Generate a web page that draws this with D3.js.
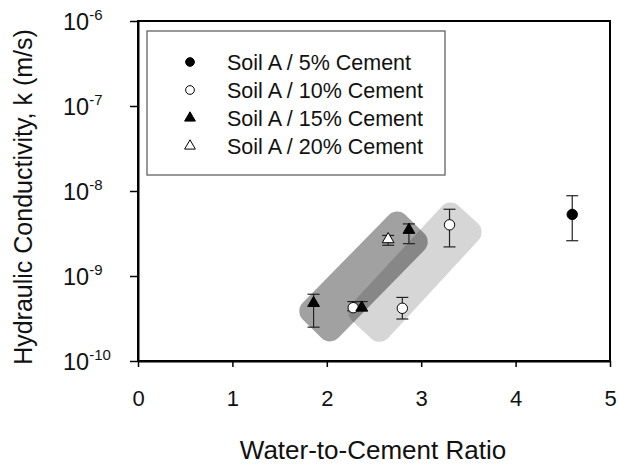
<!DOCTYPE html>
<html>
<head>
<meta charset="utf-8">
<script src="https://cdn.jsdelivr.net/npm/d3@7"></script>
<style>
  html, body { margin: 0; padding: 0; background: #fff; }
  svg { display: block; font-family: "Liberation Sans", Arial, sans-serif; }
</style>
</head>
<body>
<svg id="chart" width="618" height="465"></svg>
<script>
// ---- data ----
const seriesNames = ["Soil A / 5% Cement", "Soil A / 10% Cement", "Soil A / 15% Cement", "Soil A / 20% Cement"];
const seriesSymbols = ["circle", "circle", "triangle", "triangle"];
const seriesFilled = [true, false, true, false];

const wc5 = [4.6];
const k5 = [5.3e-9];
const lo5 = [2.6e-9];
const hi5 = [8.8e-9];

const wc10 = [2.28, 2.8, 3.3];
const k10 = [4.24e-10, 4.17e-10, 4.0e-9];
const lo10 = [3.9e-10, 3.12e-10, 2.2e-9];
const hi10 = [5.0e-10, 5.6e-10, 6.1e-9];

const wc15 = [1.86, 2.37, 2.87];
const k15 = [4.8e-10, 4.24e-10, 3.48e-9];
const lo15 = [2.5e-10, 3.9e-10, 2.4e-9];
const hi15 = [6.1e-10, 5.0e-10, 4.1e-9];

const wc20 = [2.65];
const k20 = [2.7e-9];
const lo20 = [2.3e-9];
const hi20 = [3.0e-9];

const xTicks = [0, 1, 2, 3, 4, 5];
const yTickExps = [-6, -7, -8, -9, -10];

// shaded bands: centerline ends in data units [wc, k]
const bandStart = [[1.875, 2.58e-10], [2.399, 2.52e-10]];
const bandEnd = [[2.903, 3.77e-9], [3.469, 4.88e-9]];

// ---- layout ----
const svg = d3.select("#chart");
const L = 138, R = 610, T = 21, B = 361;
const x = d3.scaleLinear().domain([0, 5]).range([L, R]);
const y = d3.scaleLog().domain([1e-10, 1e-6]).range([B, T]);

// bands (drawn first, light one first)
const bandOpacity = [0.37, 0.16];
[1, 0].forEach(i => {
  const x1 = x(bandStart[i][0]), y1 = y(bandStart[i][1]);
  const x2 = x(bandEnd[i][0]), y2 = y(bandEnd[i][1]);
  const len = Math.hypot(x2 - x1, y2 - y1) + 8;
  const ang = Math.atan2(y2 - y1, x2 - x1) * 180 / Math.PI;
  const w = 50;
  svg.append("rect")
    .attr("x", -len / 2).attr("y", -w / 2)
    .attr("width", len).attr("height", w)
    .attr("rx", 12).attr("ry", 12)
    .attr("fill", "#000").attr("fill-opacity", bandOpacity[i])
    .attr("transform", `translate(${(x1 + x2) / 2},${(y1 + y2) / 2}) rotate(${ang})`);
});

// frame
svg.append("rect").attr("x", L).attr("y", T).attr("width", R - L).attr("height", B - T)
  .attr("fill", "none").attr("stroke", "#000").attr("stroke-width", 2);

// x axis
const xAxis = d3.axisBottom(x).tickValues(xTicks).tickSize(6).tickSizeOuter(0).tickFormat(d3.format("d"));
const gx = svg.append("g").attr("transform", `translate(0,${B})`).call(xAxis);
gx.select(".domain").attr("stroke", "#000").attr("stroke-width", 2);
gx.selectAll(".tick line").attr("stroke", "#000").attr("stroke-width", 1.5);
gx.selectAll(".tick text").attr("font-size", 22).attr("font-family", "Liberation Sans, Arial, sans-serif")
  .attr("fill", "#111").attr("y", 44.5).attr("dy", 0);

// y axis
const yAxis = d3.axisLeft(y).tickValues(yTickExps.map(e => Math.pow(10, e))).tickSize(8).tickSizeOuter(0).tickFormat("");
const gy = svg.append("g").attr("transform", `translate(${L},0)`).call(yAxis);
gy.select(".domain").attr("stroke", "#000").attr("stroke-width", 2);
gy.selectAll(".tick line").attr("stroke", "#000").attr("stroke-width", 1.5);
yTickExps.forEach(e => {
  const t = svg.append("text").attr("x", 63).attr("y", y(Math.pow(10, e)) + 8.5)
    .attr("font-size", 23.5).attr("fill", "#111");
  t.append("tspan").text("10");
  t.append("tspan").attr("font-size", 15).attr("dy", -10).text("-" + Math.abs(e));
});

// axis titles
svg.append("text").attr("x", 373).attr("y", 459).attr("text-anchor", "middle")
  .attr("font-size", 26).attr("fill", "#111").text("Water-to-Cement Ratio");
svg.append("text").attr("transform", `translate(32,${(T + B) / 2 + 6}) rotate(-90)`)
  .attr("text-anchor", "middle").attr("font-size", 25).attr("fill", "#111")
  .text("Hydraulic Conductivity, k (m/s)");

// data points
const groups = [
  [wc5, k5, lo5, hi5],
  [wc10, k10, lo10, hi10],
  [wc15, k15, lo15, hi15],
  [wc20, k20, lo20, hi20]
];
const symGen = (type, big) => d3.symbol().type(type === "circle" ? d3.symbolCircle : d3.symbolTriangle)
  .size(type === "circle" ? (big ? 85 : 60) : (big ? 60 : 50))();

const ptsLayer = svg.append("g");
groups.forEach(g => {
  const [wc, k, lo, hi] = g;
  wc.forEach((v, i) => {
    const px = x(v), pl = y(lo[i]), ph = y(hi[i]);
    const eg = ptsLayer.append("g").attr("stroke", "#222").attr("stroke-width", 1.2);
    eg.append("line").attr("x1", px).attr("x2", px).attr("y1", pl).attr("y2", ph);
    eg.append("line").attr("x1", px - 6).attr("x2", px + 6).attr("y1", pl).attr("y2", pl);
    eg.append("line").attr("x1", px - 6).attr("x2", px + 6).attr("y1", ph).attr("y2", ph);
  });
});
groups.forEach((g, si) => {
  const [wc, k] = g;
  wc.forEach((v, i) => {
    ptsLayer.append("path").attr("d", symGen(seriesSymbols[si], true))
      .attr("transform", `translate(${x(v)},${y(k[i])})`)
      .attr("fill", seriesFilled[si] ? "#000" : "#fff")
      .attr("stroke", "#000").attr("stroke-width", 1);
  });
});

// legend
const lg = svg.append("g");
lg.append("rect").attr("x", 147).attr("y", 31).attr("width", 298).attr("height", 144)
  .attr("fill", "#fff").attr("stroke", "#555").attr("stroke-width", 1.2);
seriesNames.forEach((name, i) => {
  const ry = 62 + i * 28;
  lg.append("path").attr("d", symGen(seriesSymbols[i], false))
    .attr("transform", `translate(190,${ry})`)
    .attr("fill", seriesFilled[i] ? "#000" : "#fff").attr("stroke", "#000").attr("stroke-width", 1);
  lg.append("text").attr("x", 227).attr("y", ry + 7.8).attr("font-size", 21.5).attr("fill", "#111").text(name);
});
</script>
</body>
</html>
